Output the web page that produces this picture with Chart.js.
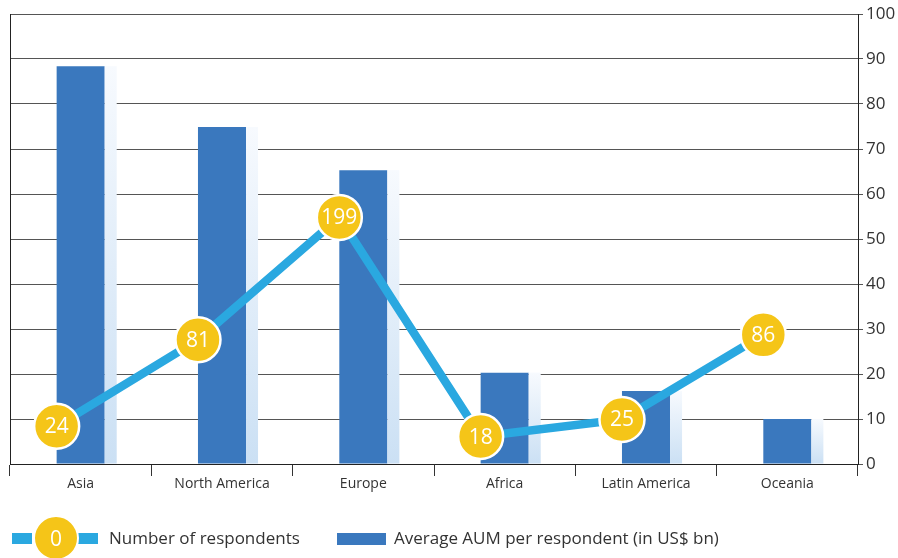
<!DOCTYPE html>
<html><head><meta charset="utf-8">
<script src="https://cdn.jsdelivr.net/npm/chart.js@4.4.1/dist/chart.umd.min.js"></script>
<style>
html,body{margin:0;padding:0;background:#fff;overflow:hidden}
#wrap{position:relative;width:898px;height:558px}
#c{position:absolute;left:0;top:0}
.lg{position:absolute;top:527px;font-family:"Open Sans",sans-serif;font-size:17px;color:#333;line-height:22px;white-space:nowrap}
.seg{position:absolute;top:533px;height:11px;background:#2AA8E0}
.dot{position:absolute;left:33px;top:515px;width:42px;height:42px;border-radius:50%;background:#F5C518;border:2px solid #fff;color:#fff;font-family:"Open Sans",sans-serif;font-size:21px;text-align:center;line-height:42px}
.sq{position:absolute;left:337px;top:533px;width:49px;height:12px;background:#3A78BE}
</style></head>
<body><div id="wrap">
<canvas id="c" width="898" height="558"></canvas>
<div class="seg" style="left:12px;width:20px"></div>
<div class="seg" style="left:76px;width:22px"></div>
<div class="dot">0</div>
<div class="lg" style="left:109px">Number of respondents</div>
<div class="sq"></div>
<div class="lg" style="left:394px">Average AUM per respondent (in US$ bn)</div>
</div>
<script>
const categories = ['Asia','North America','Europe','Africa','Latin America','Oceania'];
const aumPerRespondent = [88.4, 74.9, 65.3, 20.3, 16.2, 10.0];
const respondents = [24, 81, 199, 18, 25, 86];
// heights at which the respondents line is drawn
const respondentLineLevel = [8.4, 27.6, 54.8, 6.1, 9.9, 28.7];
const yTicks = [0,10,20,30,40,50,60,70,80,90,100];

const FONT = '"Open Sans", sans-serif';
const TXT = '#333';

const decor = {
  id: 'decor',
  afterDatasetDraw(chart, args) {
    const ctx = chart.ctx;
    if (args.index === 1) {
      args.meta.data.forEach(b => {
        const x = b.x + b.width / 2;
        const g = ctx.createLinearGradient(0, b.y, 0, b.base);
        g.addColorStop(0, '#F7FAFE');
        g.addColorStop(1, '#CBE0F4');
        ctx.fillStyle = g;
        ctx.fillRect(x, b.y, b.width * 0.25, b.base - b.y);
      });
    }
    if (args.index === 0) {
      const pts = args.meta.data;
      ctx.fillStyle = '#fff';
      ctx.font = '21px ' + FONT;
      ctx.textAlign = 'center';
      ctx.textBaseline = 'middle';
      pts.forEach((p, i) => ctx.fillText(String(respondents[i]), p.x, p.y + 1));
      ctx.restore();
    }
  },
  beforeDatasetDraw(chart, args) {
    if (args.index === 0) {
      const barMeta = chart.getDatasetMeta(1);
      const w = barMeta.data[0].width;
      chart.ctx.save();
      chart.ctx.translate(-w / 2, 0);
    }
  }
};

new Chart(document.getElementById('c'), {
  data: {
    labels: categories,
    datasets: [
      {
        type: 'line', label: 'Number of respondents', data: respondentLineLevel,
        yAxisID: 'y', order: 0, borderColor: '#2AA8E0', borderWidth: 8.5,
        pointRadius: 22.5, pointBackgroundColor: '#F5C518', pointBorderColor: '#fff',
        pointBorderWidth: 2.5, tension: 0, clip: false
      },
      {
        type: 'bar', label: 'Average AUM per respondent (in US$ bn)', data: aumPerRespondent,
        yAxisID: 'y', order: 1, backgroundColor: '#3A78BE',
        barPercentage: 0.34, categoryPercentage: 1.0
      }
    ]
  },
  options: {
    responsive: false, animation: false,
    layout: { autoPadding: false, padding: { top: 14, left: 0, right: 0, bottom: 0 } },
    plugins: { legend: { display: false }, tooltip: { enabled: false } },
    scales: {
      x: {
        offset: true,
        grid: { display: true, drawOnChartArea: false, drawTicks: true, tickLength: 12, color: '#333' },
        border: { display: true, color: '#222', width: 1 },
        ticks: { color: TXT, font: { family: FONT, size: 14 }, padding: 0, maxRotation: 0 },
        afterFit(s) { s.height = 94; s.paddingLeft = 0; s.paddingRight = 0; }
      },
      y: {
        position: 'right', min: 0, max: 100,
        afterBuildTicks(s) { s.ticks = yTicks.map(v => ({ value: v })); },
        grid: { color: '#555', lineWidth: 1, drawTicks: true, tickLength: 5 },
        border: { display: true, color: '#222', width: 1 },
        ticks: { color: TXT, font: { family: FONT, size: 17 }, padding: 3 },
        afterFit(s) { s.width = 40; s.paddingTop = 0; s.paddingBottom = 0; }
      },
      yl: {
        position: 'left', min: 0, max: 100,
        grid: { display: false, drawTicks: false },
        border: { display: true, color: '#222', width: 1 },
        ticks: { display: false },
        afterFit(s) { s.width = 10; s.paddingTop = 0; s.paddingBottom = 0; }
      }
    }
  },
  plugins: [decor]
});
</script>
</body></html>
